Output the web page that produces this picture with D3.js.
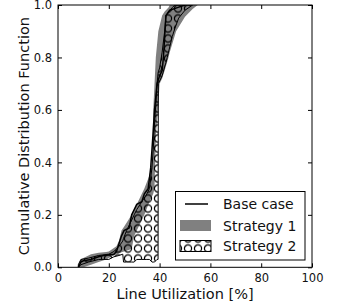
<!DOCTYPE html>
<html><head><meta charset="utf-8">
<script src="https://cdn.jsdelivr.net/npm/d3@7"></script>
<style>
html,body{margin:0;padding:0;background:#fff;}
svg{display:block;font-family:"DejaVu Sans",sans-serif;}
</style></head>
<body><svg id="c" width="341" height="304"></svg>
<script>
// ---- data ----
const xTicks = [0, 20, 40, 60, 80, 100];
const yTicks = [0.0, 0.2, 0.4, 0.6, 0.8, 1.0];
const seriesNames = ["Base case", "Strategy 1", "Strategy 2"];

const baseX = [8, 9, 10, 13, 16, 18, 22, 23, 24, 25, 26, 28, 29, 30, 31, 33, 34, 35.5, 36.5, 37, 37.5, 38, 38.5, 39, 40, 41, 41.5, 42, 42.5, 44, 47, 50];
const baseY = [0, 0.02, 0.025, 0.03, 0.04, 0.045, 0.05, 0.06, 0.09, 0.12, 0.14, 0.15, 0.2, 0.22, 0.24, 0.25, 0.28, 0.3, 0.38, 0.45, 0.52, 0.6, 0.65, 0.7, 0.73, 0.75, 0.8, 0.88, 0.96, 0.98, 0.99, 1.0];

const s1X    = [8, 9, 10, 13, 16, 19, 20, 23, 24, 25, 26, 29, 30, 31.5, 34, 36, 37, 37.5, 38, 38.5, 39.5, 40, 41, 42, 43.5, 44, 46.5, 50, 53, 55];
const s1Ymin = [0, 0, 0, 0.01, 0.02, 0.03, 0.035, 0.05, 0.053, 0.057, 0.06, 0.07, 0.12, 0.15, 0.20, 0.25, 0.27, 0.28, 0.30, 0.50, 0.62, 0.70, 0.72, 0.75, 0.80, 0.82, 0.90, 0.955, 0.985, 1.0];
const s1Ymax = [0.01, 0.03, 0.035, 0.05, 0.055, 0.058, 0.06, 0.08, 0.10, 0.14, 0.155, 0.20, 0.22, 0.25, 0.30, 0.35, 0.40, 0.60, 0.70, 0.80, 0.90, 0.92, 0.96, 0.975, 0.99, 1.0, 1.0, 1.0, 1.0, 1.0];

const s2X    = [8, 9, 12, 16, 20, 22, 24, 25.5, 25.8, 27, 29, 30, 31, 33, 35, 36, 37, 37.5, 38, 38.5, 39, 39.4, 39.5, 40, 41, 42, 42.5, 43, 44, 45, 46, 47.5, 50, 53];
const s2Ymin = [0, 0.01, 0.02, 0.03, 0.03, 0.04, 0.045, 0.05, 0.02, 0.02, 0.02, 0.02, 0.03, 0.03, 0.03, 0.03, 0.02, 0.02, 0.02, 0.025, 0.03, 0.03, 0.70, 0.71, 0.73, 0.765, 0.78, 0.80, 0.84, 0.88, 0.91, 0.95, 0.98, 1.0];
const s2Ymax = [0.01, 0.03, 0.035, 0.045, 0.05, 0.06, 0.08, 0.10, 0.11, 0.14, 0.18, 0.20, 0.22, 0.25, 0.28, 0.30, 0.38, 0.45, 0.55, 0.62, 0.70, 0.74, 0.745, 0.76, 0.82, 0.90, 0.96, 0.965, 0.98, 0.99, 1.0, 1.0, 1.0, 1.0];

// ---- layout ----
const L = 58, R = 312, T = 5, B = 267.3;
const svg = d3.select("#c");
const x = d3.scaleLinear().domain([0, 100]).range([L, R]);
const y = d3.scaleLinear().domain([0, 1]).range([B, T]);

const defs = svg.append("defs");
const pat = defs.append("pattern").attr("id", "hatch").attr("patternUnits", "userSpaceOnUse")
  .attr("width", 10).attr("height", 10).attr("x", 3).attr("y", 3.5);
pat.append("circle").attr("cx", 5).attr("cy", 5).attr("r", 3.6)
  .attr("fill", "none").attr("stroke", "#000").attr("stroke-width", 1.2);
defs.append("clipPath").attr("id", "clip").append("rect")
  .attr("x", L).attr("y", T).attr("width", R - L).attr("height", B - T);

const g = svg.append("g").attr("clip-path", "url(#clip)");
const s1 = s1X.map((v, i) => ({x: v, y0: s1Ymin[i], y1: s1Ymax[i]}));
const s2 = s2X.map((v, i) => ({x: v, y0: s2Ymin[i], y1: s2Ymax[i]}));
const area = d3.area().x(d => x(d.x)).y0(d => y(d.y0)).y1(d => y(d.y1));
g.append("path").attr("d", area(s1)).attr("fill", "#808080").attr("stroke", "none");
g.append("path").attr("d", area(s2)).attr("fill", "url(#hatch)").attr("stroke", "#000").attr("stroke-width", 1);
const base = baseX.map((v, i) => [v, baseY[i]]);
g.append("path").attr("d", d3.line().x(d => x(d[0])).y(d => y(d[1]))(base))
  .attr("fill", "none").attr("stroke", "#000").attr("stroke-width", 1.5);

// ---- axes ----
const fmtY = d3.format(".1f");
const ax = svg.append("g").attr("transform", `translate(0,${B})`)
  .call(d3.axisBottom(x).tickValues(xTicks).tickSize(-4).tickPadding(7).tickFormat(d3.format("d")));
const ay = svg.append("g").attr("transform", `translate(${L},0)`)
  .call(d3.axisLeft(y).tickValues(yTicks).tickSize(-4).tickPadding(6).tickFormat(fmtY));
const axT = svg.append("g").attr("transform", `translate(0,${T})`)
  .call(d3.axisTop(x).tickValues(xTicks).tickSize(-4).tickFormat(""));
const ayR = svg.append("g").attr("transform", `translate(${R},0)`)
  .call(d3.axisRight(y).tickValues(yTicks).tickSize(-4).tickFormat(""));
[ax, ay, axT, ayR].forEach(a => {
  a.select(".domain").remove();
  a.selectAll("line").attr("stroke", "#000");
  a.selectAll("text").attr("fill", "#111").style("font-size", "11.5px").style("font-family", "DejaVu Sans");
});
svg.append("rect").attr("x", L).attr("y", T).attr("width", R - L).attr("height", B - T)
  .attr("fill", "none").attr("stroke", "#000").attr("stroke-width", 1);

svg.append("text").attr("x", (L + R) / 2).attr("y", 299).attr("text-anchor", "middle")
  .style("font-size", "14.5px").attr("fill", "#111").text("Line Utilization [%]");
svg.append("text").attr("transform", `translate(29,${(T + B) / 2}) rotate(-90)`).attr("text-anchor", "middle")
  .style("font-size", "14.5px").attr("fill", "#111").text("Cumulative Distribution Function");

// ---- legend ----
const lg = svg.append("g");
lg.append("rect").attr("x", 175.5).attr("y", 191.5).attr("width", 129.5).attr("height", 68.5)
  .attr("fill", "#fff").attr("stroke", "#000").attr("stroke-width", 1);
const rows = [204, 225.5, 246];
lg.append("line").attr("x1", 185).attr("x2", 208).attr("y1", rows[0]).attr("y2", rows[0])
  .attr("stroke", "#000").attr("stroke-width", 1.5);
lg.append("rect").attr("x", 180).attr("y", rows[1] - 5.5).attr("width", 31).attr("height", 11).attr("fill", "#808080");
lg.append("rect").attr("x", 180).attr("y", rows[2] - 5.5).attr("width", 31).attr("height", 11)
  .attr("fill", "url(#hatch)").attr("stroke", "#000").attr("stroke-width", 1);
seriesNames.forEach((n, i) => {
  lg.append("text").attr("x", 223).attr("y", rows[i] + 5).style("font-size", "14px").attr("fill", "#111").text(n);
});
</script></body></html>
